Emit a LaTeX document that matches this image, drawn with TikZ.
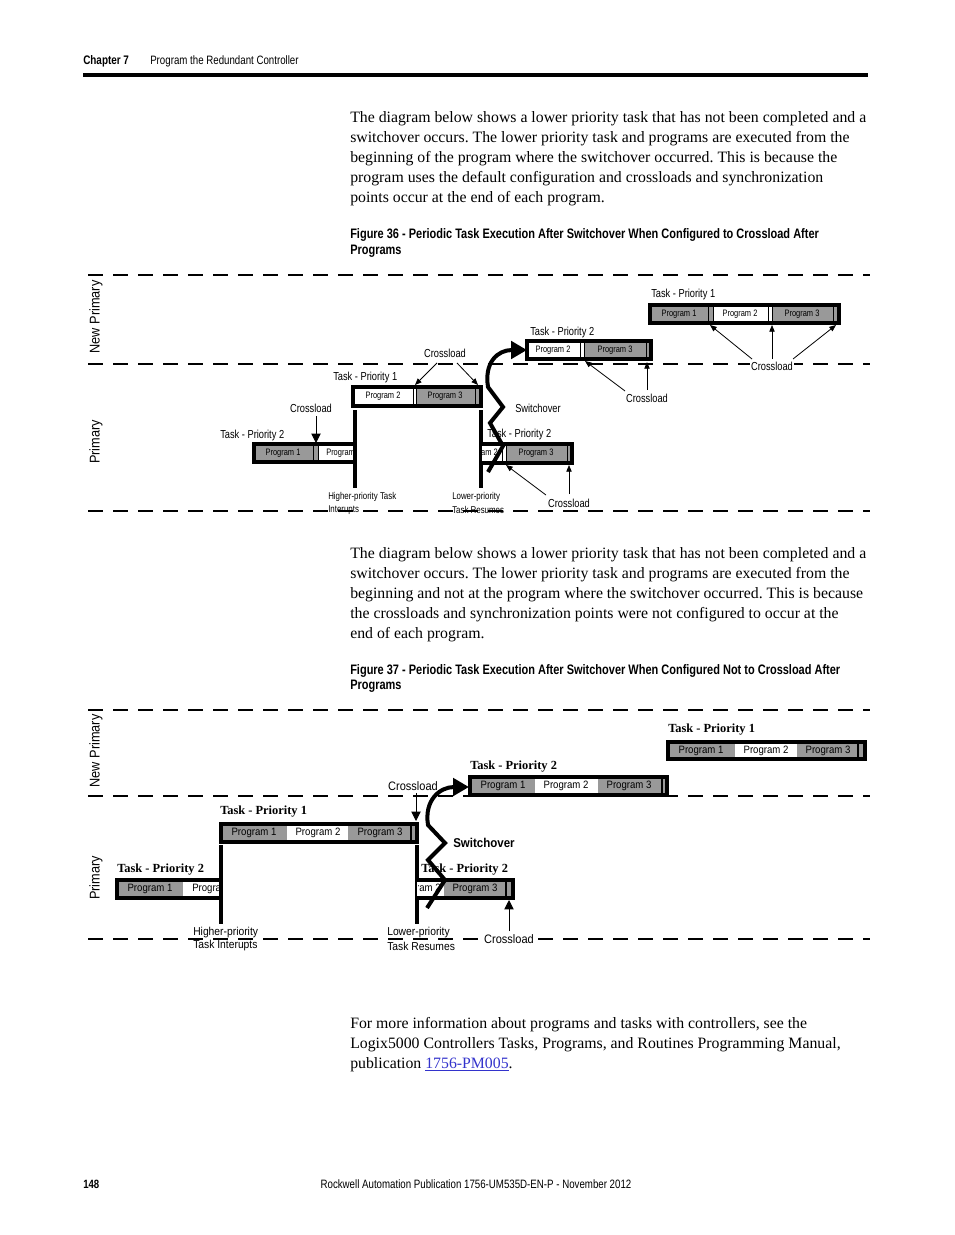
\documentclass[tikz,border=0pt]{standalone}
\usepackage{fontspec}
\setmainfont{Liberation Serif}
\newfontfamily\cnd[FakeStretch=0.8]{Liberation Sans}
\newfontfamily\myr[FakeStretch=0.9]{Liberation Sans}
\usetikzlibrary{arrows.meta,calc}
\definecolor{pg}{HTML}{999999}
\definecolor{lnk}{HTML}{3333CC}
\frenchspacing
\begin{document}
\begin{tikzpicture}[x=0.75pt,y=-0.75pt,
  body/.style={inner sep=0pt,anchor=base west,font=\fontsize{11.85}{13}\selectfont},
  capt/.style={inner sep=0pt,anchor=base west,font=\cnd\bfseries\fontsize{10.3}{11}\selectfont},
  hdr/.style={inner sep=0pt,anchor=base west,font=\cnd\fontsize{9.1}{11}\selectfont},
  la/.style={inner sep=1pt,font=\cnd\fontsize{8.7}{10}\selectfont},
  pa/.style={inner sep=0pt,font=\cnd\fontsize{7}{8}\selectfont},
  sa/.style={inner sep=0pt,anchor=west,font=\cnd\fontsize{7.4}{8}\selectfont},
  lb/.style={inner sep=1pt,font=\myr\fontsize{9.2}{10}\selectfont},
  pb/.style={inner sep=0pt,font=\myr\fontsize{8}{9}\selectfont},
  sb/.style={inner sep=0pt,anchor=west,font=\myr\fontsize{8.6}{9}\selectfont},
  tb/.style={inner sep=0pt,anchor=west,font=\bfseries\fontsize{9.3}{10}\selectfont},
  side/.style={inner sep=0pt,rotate=90,font=\myr\fontsize{10.6}{12}\selectfont},
  seg/.style={draw=black,line width=0.7pt},
  outl/.style={draw=black,line width=2.3pt},
  vl/.style={line width=2.3pt},
  dl1/.style={dash pattern=on 11.25pt off 7.5pt,line width=1pt},
  dl2/.style={dash pattern=on 11.25pt off 7.5pt,line width=1.5pt},
  ar1/.style={-{Triangle[length=5pt,width=4pt]},line width=0.6pt},
  ar2/.style={-{Triangle[length=7pt,width=7pt]},line width=0.7pt},
  sw/.style={line width=3pt,-{Triangle[length=12pt,width=13pt]}}]
\fill[white] (0,0) rectangle (954,1235);
\useasboundingbox (0,0) rectangle (954,1235);

% ---------- header ----------
\node[hdr,font=\cnd\bfseries\fontsize{9.3}{11}\selectfont] (chap) at (83,64) {Chapter 7};
\node[hdr] (chapt) at (150,64) {Program the Redundant Controller};
\coordinate (r1) at (83,75); \coordinate (r2) at (868,75);
\draw[line width=2.6pt] (r1) -- (r2);

% ---------- paragraph 1 ----------
\node[body] (t1) at (350,122.5) {The diagram below shows a lower priority task that has not been completed and a};
\node[body] (t2) at (350,142.5) {switchover occurs. The lower priority task and programs are executed from the};
\node[body] (t3) at (350,162.5) {beginning of the program where the switchover occurred. This is because the};
\node[body] (t4) at (350,182.5) {program uses the default configuration and crossloads and synchronization};
\node[body] (t5) at (350,202.5) {points occur at the end of each program.};
\node[capt] (c1) at (350,238) {Figure 36 - Periodic Task Execution After Switchover When Configured to Crossload After};
\node[capt] (c1b) at (350,254) {Programs};

% ---------- diagram 1 ----------
\coordinate (d1a) at (88,275); \coordinate (d1b) at (870,275);
\coordinate (d1c) at (88,364); \coordinate (d1d) at (870,364);
\coordinate (d1e) at (88,511); \coordinate (d1f) at (870,511);
\draw[dl1] (d1a) -- (d1b);
\draw[dl1] (d1c) -- (d1d);
\draw[dl1] (d1e) -- (d1f);
\node[side] (np1) at (96,317) {New Primary};
\node[side] (pr1) at (96,442) {Primary};

% bar A : primary, task priority 2
\draw[seg,fill=pg] (254,444) rectangle (313,462);
\draw[seg,fill=pg] (313,444) rectangle (318,462);
\draw[seg,fill=white] (318,444) rectangle (355,462);
\node[pa] (a1) at (283,453) {Program 1};
\begin{scope}\clip (318,440) rectangle (354,466);
\node[pa,anchor=west] (a2) at (326,453) {Program 2};
\end{scope}
\draw[outl] (355,444) -- (254,444) -- (254,462) -- (355,462);

% bar B : primary, task priority 1
\draw[seg,fill=white] (353,387) rectangle (413,406);
\draw[seg,fill=white] (413,387) rectangle (416,406);
\draw[seg,fill=pg] (416,387) rectangle (475,406);
\draw[seg,fill=pg] (475,387) rectangle (481,406);
\node[pa] (b1) at (383,396.5) {Program 2};
\node[pa] (b2) at (445,396.5) {Program 3};
\draw[outl] (353,387) rectangle (481,406);

% vertical lines
\coordinate (v1a) at (355,410); \coordinate (v1b) at (355,488);
\coordinate (v2a) at (481,410); \coordinate (v2b) at (481,488);
\draw[vl] (v1a) -- (v1b);
\draw[vl] (v2a) -- (v2b);

% bar C : primary, task priority 2 resumed
\draw[seg,fill=white] (481,444) rectangle (502,463);
\draw[seg,fill=white] (502,444) rectangle (506,463);
\draw[seg,fill=pg] (506,444) rectangle (567,463);
\draw[seg,fill=pg] (567,444) rectangle (572,463);
\begin{scope}\clip (482,440) rectangle (502,466);
\node[pa,anchor=east] (c3) at (498,453.5) {Program 2};
\end{scope}
\node[pa] (c4) at (536,453.5) {Program 3};
\draw[outl] (481,444) -- (572,444) -- (572,463) -- (481,463);

% bar D : new primary, task priority 2
\draw[seg,fill=white] (527,341) rectangle (580,359);
\draw[seg,fill=white] (580,341) rectangle (584,359);
\draw[seg,fill=pg] (584,341) rectangle (646,359);
\draw[seg,fill=pg] (646,341) rectangle (651,359);
\node[pa] (d1) at (553,350) {Program 2};
\node[pa] (d2) at (615,350) {Program 3};
\draw[outl] (527,341) rectangle (651,359);

% bar E : new primary, task priority 1
\draw[seg,fill=pg] (650,305) rectangle (708,323);
\draw[seg,fill=pg] (708,305) rectangle (713,323);
\draw[seg,fill=white] (713,305) rectangle (768,323);
\draw[seg,fill=white] (768,305) rectangle (772,323);
\draw[seg,fill=pg] (772,305) rectangle (833,323);
\draw[seg,fill=pg] (833,305) rectangle (839,323);
\node[pa] (e1) at (679,314) {Program 1};
\node[pa] (e2) at (740,314) {Program 2};
\node[pa] (e3) at (802,314) {Program 3};
\draw[outl] (650,305) rectangle (839,323);

% task labels
\node[la,anchor=west,inner sep=0pt] (tk1) at (651,294) {Task - Priority 1};
\node[la,anchor=west,inner sep=0pt] (tk2) at (530,332) {Task - Priority 2};
\node[la,anchor=west,inner sep=0pt] (tk3) at (333,377) {Task - Priority 1};
\node[la,anchor=west,inner sep=0pt] (tk4) at (220,435) {Task - Priority 2};
\node[la,anchor=west,inner sep=0pt] (tk5) at (487,434) {Task - Priority 2};
\node[la,anchor=west,inner sep=0pt] (swl1) at (515,408) {Switchover};

% crossload labels and arrows
\node[la] (cl1) at (445,353) {Crossload};
\node[la] (cl2) at (311,408) {Crossload};
\node[la] (cl3) at (647,398) {Crossload};
\node[la,fill=white] (cl4) at (772,366) {Crossload};
\node[la] (cl5) at (569,503) {Crossload};
\coordinate (x1) at (415,385); \coordinate (x2) at (478,385);
\coordinate (x3s) at (316,416); \coordinate (x3) at (316,443);
\coordinate (x4) at (585,361); \coordinate (x5s) at (647,390); \coordinate (x5) at (647,362);
\coordinate (x6) at (710,325); \coordinate (x7s) at (772,359); \coordinate (x7) at (772,325); \coordinate (x8) at (836,325);
\coordinate (x9) at (506,465); \coordinate (x10s) at (569,494); \coordinate (x10) at (569,465);
\coordinate (x1s) at (437,363); \coordinate (x2s) at (457,363);
\coordinate (x4s) at (625,391); \coordinate (x6s) at (752,359); \coordinate (x8s) at (793,359);
\coordinate (x9s) at (546,495);
\draw[ar1] (x1s) -- (x1);
\draw[ar1] (x2s) -- (x2);
\draw[ar2] (x3s) -- (x3);
\draw[ar1] (x4s) -- (x4);
\draw[ar1] (x5s) -- (x5);
\draw[ar1] (x6s) -- (x6);
\draw[ar1] (x7s) -- (x7);
\draw[ar1] (x8s) -- (x8);
\draw[ar1] (x9s) -- (x9);
\draw[ar1] (x10s) -- (x10);

\node[sa] (hp1) at (328,497) {Higher-priority Task};
\node[sa] (hp2) at (328,510) {Interupts};
\node[sa] (lp1) at (452,497) {Lower-priority};
\node[sa] (lp2) at (452,510) {Task Resumes};

% switchover arrow
\coordinate (s1) at (488,472); \coordinate (s6) at (527,350);
\draw[sw] (s1) -- (503,446) -- (490,423) -- (503,407) -- (488,387) .. controls (484,362) and (498,350) .. (s6);

% ---------- paragraph 2 ----------
\node[body] (u1) at (350,558.5) {The diagram below shows a lower priority task that has not been completed and a};
\node[body] (u2) at (350,578.5) {switchover occurs. The lower priority task and programs are executed from the};
\node[body] (u3) at (350,598.5) {beginning and not at the program where the switchover occurred. This is because};
\node[body] (u4) at (350,618.5) {the crossloads and synchronization points were not configured to occur at the};
\node[body] (u5) at (350,638.5) {end of each program.};
\node[capt] (c2) at (350,674) {Figure 37 - Periodic Task Execution After Switchover When Configured Not to Crossload After};
\node[capt] (c2b) at (350,689) {Programs};

% ---------- diagram 2 ----------
\coordinate (d2a) at (88,710); \coordinate (d2b) at (870,710);
\coordinate (d2c) at (88,796); \coordinate (d2d) at (870,796);
\coordinate (d2e) at (88,939); \coordinate (d2f) at (870,939);
\draw[dl2] (d2a) -- (d2b);
\draw[dl2] (d2c) -- (d2d);
\draw[dl2] (d2e) -- (d2f);
\node[side] (np2) at (96,751) {New Primary};
\node[side] (pr2) at (96,878) {Primary};

% bar F : primary, task priority 2
\fill[pg] (117,880) rectangle (183,898);
\fill[white] (183,880) rectangle (221,898);
\node[pb] (f1) at (150,889) {Program 1};
\begin{scope}\clip (183,876) rectangle (220,902);
\node[pb,anchor=west] (f2) at (192,889) {Program 2};
\end{scope}
\draw[outl] (221,880) -- (117,880) -- (117,898) -- (221,898);

% bar G : primary, task priority 1
\fill[pg] (221,824) rectangle (287,842);
\fill[white] (287,824) rectangle (348,842);
\fill[pg] (348,824) rectangle (417,842);
\draw[line width=0.8pt] (411,824) -- (411,842);
\node[pb] (g1) at (254,833) {Program 1};
\node[pb] (g2) at (318,833) {Program 2};
\node[pb] (g3) at (380,833) {Program 3};
\draw[outl] (221,824) rectangle (417,842);

\coordinate (v3a) at (221,845); \coordinate (v3b) at (221,924);
\coordinate (v4a) at (417,845); \coordinate (v4b) at (417,924);
\draw[vl] (v3a) -- (v3b);
\draw[vl] (v4a) -- (v4b);

% bar H : primary, task priority 2 resumed
\fill[white] (417,880) rectangle (444,898);
\fill[pg] (444,880) rectangle (513,898);
\draw[line width=0.8pt] (506,880) -- (506,898);
\begin{scope}\clip (418,876) rectangle (444,902);
\node[pb,anchor=east] (h1) at (441,889) {Program 2};
\end{scope}
\node[pb] (h2) at (475,889) {Program 3};
\draw[outl] (417,880) -- (513,880) -- (513,898) -- (417,898);

% bar I : new primary, task priority 2
\fill[pg] (470,777) rectangle (535,795);
\fill[white] (535,777) rectangle (598,795);
\fill[pg] (598,777) rectangle (667,795);
\draw[line width=0.8pt] (662,777) -- (662,795);
\node[pb] (i1) at (503,786) {Program 1};
\node[pb] (i2) at (566,786) {Program 2};
\node[pb] (i3) at (629,786) {Program 3};
\draw[outl] (470,777) rectangle (667,795);

% bar J : new primary, task priority 1
\fill[pg] (668,742) rectangle (735,759);
\fill[white] (735,742) rectangle (797,759);
\fill[pg] (797,742) rectangle (865,759);
\draw[line width=0.8pt] (858,742) -- (858,759);
\node[pb] (j1) at (701,750.5) {Program 1};
\node[pb] (j2) at (766,750.5) {Program 2};
\node[pb] (j3) at (828,750.5) {Program 3};
\draw[outl] (668,742) rectangle (865,759);

% task labels
\node[tb] (tq1) at (668,730) {Task - Priority 1};
\node[tb] (tq2) at (470,767) {Task - Priority 2};
\node[tb] (tq3) at (220,812) {Task - Priority 1};
\node[tb] (tq4) at (117,870) {Task - Priority 2};
\node[tb] (tq5) at (421,870) {Task - Priority 2};
\node[inner sep=0pt,anchor=west,font=\myr\bfseries\fontsize{9.6}{11}\selectfont] (swl2) at (453,843) {Switchover};

\node[lb] (cl6) at (413,786) {Crossload};
\node[lb,fill=white] (cl7) at (509,939) {Crossload};
\coordinate (y1s) at (416,793); \coordinate (y1) at (416,821);
\coordinate (y2s) at (509,931); \coordinate (y2) at (509,900);
\draw[ar2] (y1s) -- (y1);
\draw[ar2] (y2s) -- (y2);

\node[sb] (hq1) at (193,933) {Higher-priority};
\node[sb] (hq2) at (193,946) {Task Interupts};
\node[sb] (lq1) at (387,933) {Lower-priority};
\node[sb] (lq2) at (387,946) {Task Resumes};

\coordinate (z1) at (427,908); \coordinate (z6) at (469,787);
\draw[sw] (z1) -- (445,880) -- (428,860) -- (445,843) -- (428,825) .. controls (424,800) and (440,787) .. (z6);

% ---------- paragraph 3 ----------
\node[body] (w1) at (350,1028.5) {For more information about programs and tasks with controllers, see the};
\node[body] (w2) at (350,1048.5) {Logix5000 Controllers Tasks, Programs, and Routines Programming Manual,};
\node[body] (w3) at (350,1068.5) {publication \textcolor{lnk}{\underline{1756-PM005}}.};

% ---------- footer ----------
\node[hdr,font=\cnd\bfseries\fontsize{9}{11}\selectfont] (pgn) at (83,1188) {148};
\node[hdr,anchor=base] (ftr) at (476,1188) {Rockwell Automation Publication 1756-UM535D-EN-P - November 2012};
\end{tikzpicture}
\end{document}
